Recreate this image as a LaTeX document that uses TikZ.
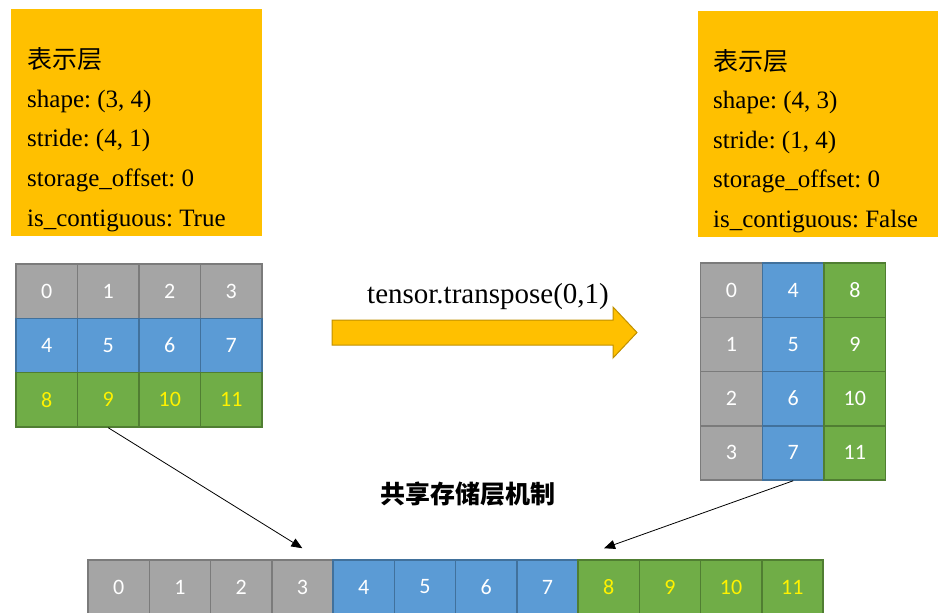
\documentclass[tikz,border=0pt]{standalone}
\usepackage{fontspec}
\setmainfont{Liberation Serif}
\newfontfamily\cjk{Noto Sans CJK SC}
\newfontfamily\zahl{Carlito}
\usetikzlibrary{arrows.meta}
\definecolor{orangegelb}{HTML}{FFC000}
\definecolor{orangerand}{HTML}{C09000}
\definecolor{grau}{HTML}{A5A5A5}
\definecolor{graurand}{HTML}{7B7B7B}
\definecolor{blau}{HTML}{5B9BD5}
\definecolor{blaurand}{HTML}{41719C}
\definecolor{gruen}{HTML}{70AD47}
\definecolor{gruenrand}{HTML}{507E32}
\frenchspacing
\begin{document}
\begin{tikzpicture}[x=1pt, y=-1pt,
    zelle/.style={draw, line width=1.5pt, inner sep=0pt, text=white,
      font=\zahl\fontsize{22}{22}\selectfont},
    infobox/.style={fill=orangegelb, inner sep=0pt, anchor=north west},
    infotext/.style={anchor=base west, inner sep=0pt, font=\fontsize{25}{25}\selectfont},
    pfeil/.style={-{Triangle[length=11pt, width=9pt]}, line width=0.8pt}]
  \useasboundingbox (0,0) rectangle (938,613);

  % Darstellungsschicht links
  \node[infobox, minimum width=251pt, minimum height=227pt] (infoL) at (11,9) {};
  \foreach \txt/\y in {{\cjk 表示层}/68, {shape: (3, 4)}/107.3, {stride: (4, 1)}/146.7,
      {storage\_offset: 0}/186.7, {is\_contiguous: True}/226.7}
    \node[infotext] at (27,\y) {\txt};

  % Darstellungsschicht rechts
  \node[infobox, minimum width=240pt, minimum height=226pt] (infoR) at (698,11) {};
  \foreach \txt/\y in {{\cjk 表示层}/70, {shape: (4, 3)}/108.3, {stride: (1, 4)}/148,
      {storage\_offset: 0}/187.7, {is\_contiguous: False}/227.7}
    \node[infotext] at (713,\y) {\txt};

  % Matrix 3x4
  \foreach \farbe/\rand/\schrift [count=\zeile] in
      {grau/graurand/white, blau/blaurand/white, gruen/gruenrand/yellow}
    \foreach \spalte in {1,...,4} {
      \pgfmathtruncatemacro{\wert}{(\zeile-1)*4+\spalte-1}
      \node[zelle, fill=\farbe, draw=\rand, text=\schrift,
        minimum width=61.5pt, minimum height=54.33pt] (L-\zeile-\spalte)
        at ({16+61.5*(\spalte-0.5)}, {264+54.33*(\zeile-0.5)}) {\wert};
    }

  % Matrix 4x3 nach transpose
  \foreach \farbe/\rand [count=\spalte] in {grau/graurand, blau/blaurand, gruen/gruenrand}
    \foreach \zeile in {1,...,4} {
      \pgfmathtruncatemacro{\wert}{(\spalte-1)*4+\zeile-1}
      \node[zelle, fill=\farbe, draw=\rand,
        minimum width=61.67pt, minimum height=54.25pt] (R-\zeile-\spalte)
        at ({700.7+61.67*(\spalte-0.5)}, {263+54.25*(\zeile-0.5)}) {\wert};
    }

  % Speicher (eindimensional)
  \foreach \farbe/\rand/\schrift [count=\g from 0] in
      {grau/graurand/white, blau/blaurand/white, gruen/gruenrand/yellow}
    \foreach \k in {0,...,3} {
      \pgfmathtruncatemacro{\wert}{\g*4+\k}
      \node[zelle, fill=\farbe, draw=\rand, text=\schrift,
        minimum width=61.25pt, minimum height=54pt] (S-\wert)
        at ({88+61.25*(\wert+0.5)}, 587) {\wert};
    }

  % Pfeil transpose
  \draw[draw=orangerand, fill=orangegelb, line width=1pt, line join=miter]
    (332,320) -- (613,320) -- (613,307) -- (637,332.5) -- (613,358)
    -- (613,345) -- (332,345) -- cycle;
  \node[anchor=base, inner sep=0pt, font=\fontsize{29}{29}\selectfont] (befehl)
    at (488,303) {tensor.transpose(0,1)};

  \node[font=\cjk\bfseries\fontsize{25}{25}\selectfont] (speicher) at (468,494) {共享存储层机制};

  % Verweise auf den Speicher
  \draw[pfeil] (L-3-2.south) -- ([yshift=11pt]S-3.north);
  \draw[pfeil] (R-4-2.south) -- ([xshift=-4.6pt, yshift=11pt]S-8.north);
\end{tikzpicture}
\end{document}
